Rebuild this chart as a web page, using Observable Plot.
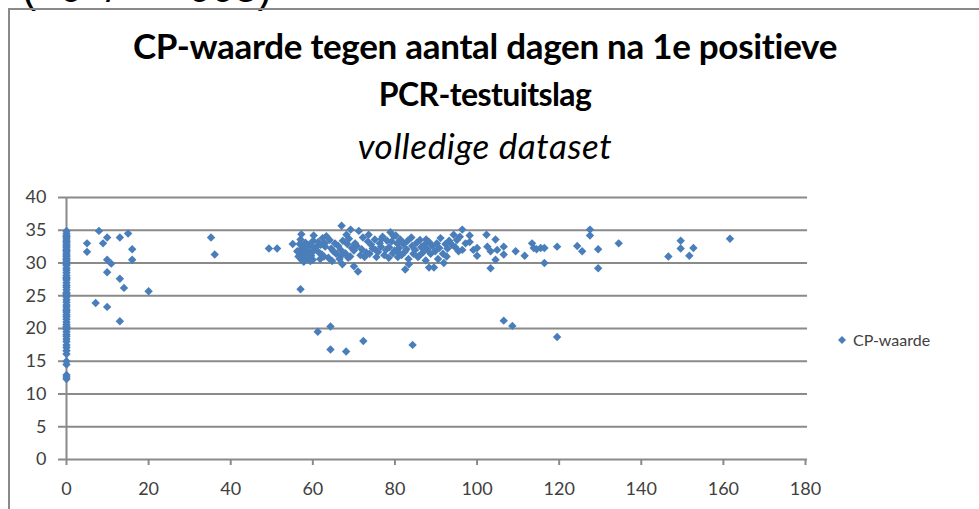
<!DOCTYPE html>
<html>
<head>
<meta charset="utf-8">
<script src="https://cdn.jsdelivr.net/npm/d3@7"></script>
<script src="https://cdn.jsdelivr.net/npm/@observablehq/plot@0.6"></script>
<style>
  html, body { margin: 0; padding: 0; background: #fff; overflow: hidden; }
  #wrap { position: relative; width: 979px; height: 509px; overflow: hidden; font-family: Lato, "Open Sans", sans-serif; }
  #cut { position: absolute; left: 22px; top: -36px; font: 42px "Liberation Sans", Arial, sans-serif; color: #000; white-space: pre; }
  #frame { position: absolute; left: 8px; top: 8px; width: 1100px; height: 700px; border: 2px solid #8a8a8a; box-sizing: border-box; }
  #plot { position: absolute; left: 0; top: 0; }
  .t1 { position: absolute; left: 0; width: 970px; text-align: center; font-weight: bold; color: #000; white-space: nowrap; }
  #sub { position: absolute; left: 0; width: 970px; text-align: center; font-style: italic; font-size: 35px; letter-spacing: 0.6px; color: #000; top: 124px; }
  #legend { position: absolute; left: 837px; top: 330px; font-size: 16px; color: #404040; display: flex; align-items: center; }
  #legend svg { margin-right: 6px; }
</style>
</head>
<body>
<div id="wrap">
  <div id="cut">(  0  /      005)</div>
  <div id="frame"></div>
  <div id="plot"></div>
  <div class="t1" style="top:24px; font-size:35px; letter-spacing:-0.3px">CP-waarde tegen aantal dagen na 1e positieve</div>
  <div class="t1" style="top:74px; font-size:32px; letter-spacing:-0.6px">PCR-testuitslag</div>
  <div id="sub">volledige dataset</div>
  <div id="legend"><svg width="10" height="10"><path d="M5,1L9,5L5,9L1,5Z" fill="#4A7EBB"/></svg>CP-waarde</div>
</div>
<script>
// CP values measured on day 0
const day0Cp = [12.3, 12.6, 12.9, 14.5, 15.0, 16.1, 16.6, 17.1, 17.5, 18.0, 18.4, 18.8, 19.1, 19.5, 19.9,
  20.1, 20.3, 20.6, 21.0, 21.4, 21.8, 22.1, 22.5, 22.7, 22.9, 23.3, 23.6, 24.0, 24.4, 24.8, 25.1, 25.3,
  25.5, 25.9, 26.3, 26.6, 27.0, 27.4, 27.6, 27.8, 28.1, 28.5, 28.9, 29.2, 29.6, 29.8, 30.0, 30.3, 30.5,
  30.7, 31.0, 31.2, 31.4, 31.7, 31.9, 32.1, 32.4, 32.6, 32.8, 33.1, 33.3, 33.5, 33.8, 34.0, 34.2, 34.5, 34.9];

// [dagen, CP] early scattered points
const earlyPoints = [[5,33.0],[5,31.7],[7.9,34.9],[9.9,33.9],[8.9,33.0],[13,33.9],[15,34.5],[16,32.1],[16,30.5],
  [9.9,30.5],[10.9,29.9],[9.9,28.6],[13,27.6],[14,26.2],[20,25.7],[7.1,23.9],[9.9,23.3],[13,21.1],
  [35.2,33.9],[36.1,31.3],[49.3,32.2],[51.3,32.2],[55.1,32.9]];

// [dagen, CP] main cluster 56-100 days
const clusterPoints = [[57.2,34.4],[57.0,33.6],[56.8,32.9],[57.3,32.2],[57.1,31.5],[56.9,30.9],[57.4,30.4],[58.2,33.1],[57.9,32.5],
  [58.4,31.8],[58.0,31.2],[58.3,30.6],[57.8,30.2],[59.1,32.8],[58.7,32.0],[59.3,31.4],[58.9,30.8],[59.4,30.3],[60.1,33.4],[59.8,32.6],
  [60.3,31.9],[59.6,31.1],[60.0,30.5],[56.2,31.8],[56.5,31.0],[57,26.0],[58.6,31.5],[59.7,31.7],[57.6,31.0],
  [60.2,34.2],[61.3,33.2],[60.8,32.4],[61.5,31.6],[62.4,33.8],[61.9,32.8],[62.2,31.3],[63.3,34.1],[63.0,32.5],[62.7,31.0],[64.1,33.5],
  [64.5,32.2],[63.8,30.8],[64.7,30.3],[65.4,33.0],[65.0,31.8],[66.2,32.6],[65.7,31.4],[66.5,30.6],[67,35.7],[67.3,33.4],[66.8,32.0],
  [67.2,29.8],[68.4,32.9],[67.9,31.5],[68.6,30.8],[69.2,35.1],[68.8,33.7],[69.5,32.3],[69.1,31.0],[70.3,33.0],[70.0,31.9],[70,29.5],
  [71.2,34.9],[70.7,32.6],[71.6,31.2],[71,28.7],[72.2,33.9],[71.9,32.1],[72.6,30.9],[73.4,33.3],[73.0,31.6],[74.2,32.8],[73.8,31.4],
  [75.1,33.6],[74.6,32.2],[75.5,30.9],[76.3,33.0],[75.9,31.7],[77.0,34.0],[76.6,32.5],[77.4,31.2],[78.1,33.4],[77.8,32.0],[78.5,30.8],
  [78.9,34.7],[79.7,34.1],[79.2,33.3],[78.6,32.4],[79.5,31.5],[80.2,34.2],[80.5,33.0],[79.9,31.9],[80.7,30.9],[81.3,33.6],[81.0,32.3],
  [81.6,31.2],[82.1,32.9],[82.4,31.7],[82.5,29.0],[83.1,33.4],[82.8,32.1],[83.3,30.6],[83.4,29.8],[84.2,32.6],[84.5,31.4],[85.3,33.1],
  [84.9,32.0],[85.6,30.9],[86.1,33.5],[86.4,32.4],[85.9,31.1],[87.2,32.8],[86.8,31.6],[87.5,30.4],[88.3,33.2],[87.9,32.1],[88.3,29.3],
  [89.1,32.6],[88.7,31.4],[89.5,29.3],[90.2,33.0],[89.8,31.8],[90.5,30.6],[91.1,33.8],[90.8,32.3],[91.9,30.0],[92.3,32.9],[91.7,31.4],
  [93.2,33.4],[92.8,32.2],[94.3,34.3],[93.9,32.8],[95.1,33.5],[94.7,32.4],[96.4,35.1],[95.8,34.0],[96.4,32.0],[97.2,33.0],[98.2,34.2],
  [98.2,33.2],[99.1,32.0],[100,32.3],[100,31.1],[76.8,33.7],[73.6,34.3],[68.2,34.3],[62.9,33.0],[84.0,33.9],[87.6,33.6],
  [75.3,32.0],[80.9,31.6],[66.9,31.1],[92.6,31.0],[61.8,30.6],[95.5,31.8]];

// [dagen, CP] later points
const latePoints = [[102.3,34.3],[102.5,32.5],[103.3,31.8],[103.3,29.2],[104.5,33.6],[104.5,30.5],[104.9,32.0],
  [106.5,32.5],[106.5,31.3],[109.4,31.8],[111.6,31.1],[113.4,33.0],[113.8,32.3],[115.5,32.3],[116.4,32.3],
  [116.4,30.0],[114.5,32.1],[119.5,32.5],[124.4,32.6],[125.6,31.8],[127.5,35.1],[127.5,34.2],[129.5,32.1],
  [129.5,29.2],[134.5,33.0],[146.6,31.0],[149.6,33.4],[149.6,32.2],[152.7,32.3],[151.7,31.1],[161.6,33.7]];

// [dagen, CP] low outliers
const lowPoints = [[61.2,19.5],[64.3,20.3],[64.3,16.8],[68.1,16.5],[72.3,18.1],[84.3,17.5],[106.5,21.2],
  [108.6,20.4],[119.5,18.7]];

const xTicks = [0, 20, 40, 60, 80, 100, 120, 140, 160, 180];
const yTicks = [0, 5, 10, 15, 20, 25, 30, 35, 40];

const data = [
  ...day0Cp.map(v => ({dagen: 0, cp: v})),
  ...[...earlyPoints, ...clusterPoints, ...latePoints, ...lowPoints].map(([d, c]) => ({dagen: d, cp: c}))
];

const chart = Plot.plot({
  width: 979,
  height: 509,
  marginLeft: 66,
  marginRight: 174,
  marginTop: 197,
  marginBottom: 50,
  style: {fontFamily: "Lato, 'Open Sans', sans-serif", fontSize: "18px", color: "#404040", background: "transparent"},
  x: {domain: [0, 180], ticks: xTicks},
  y: {domain: [0, 40], ticks: yTicks},
  marks: [
    Plot.ruleY(yTicks, {stroke: "#8a8a8a", strokeWidth: 2, x1: 0, x2: 180.5}),
    Plot.ruleX([0], {stroke: "#8a8a8a", strokeWidth: 2}),
    Plot.axisY({ticks: yTicks, tickSize: 8, tickPadding: 12, stroke: "#8a8a8a", strokeWidth: 2, label: null, fontSize: 18, fill: "#404040"}),
    Plot.axisX({ticks: xTicks, tickSize: 6, tickPadding: 17, stroke: "#8a8a8a", strokeWidth: 2, label: null, fontSize: 18, fill: "#404040"}),
    Plot.dot(data, {x: "dagen", y: "cp", symbol: "diamond2", r: 3.8, fill: "#4A7EBB", stroke: "none"})
  ]
});
document.getElementById("plot").appendChild(chart);
</script>
</body>
</html>
